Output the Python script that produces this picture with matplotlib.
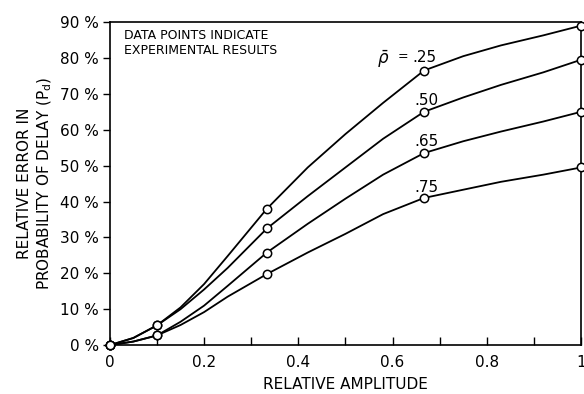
import matplotlib
matplotlib.use("Agg")
import matplotlib.pyplot as plt

# experimental points (relative amplitude, % relative error)
exp_x = [0, 0.1, 1 / 3, 2 / 3, 1.0]
exp_25 = [0, 5.5, 38.0, 76.5, 89.0]
exp_50 = [0, 5.5, 32.5, 65.0, 79.5]
exp_65 = [0, 2.7, 25.8, 53.5, 65.0]
exp_75 = [0, 2.7, 19.8, 41.0, 49.5]

# smooth curves
curve_x = [0, 0.05, 0.1, 0.15, 0.2, 0.25, 1 / 3, 0.42, 0.5, 0.58, 2 / 3, 0.75, 0.83, 0.92, 1.0]
curve_25 = [0, 2.0, 5.5, 10.5, 17.0, 24.8, 38.0, 49.5, 58.8, 67.5, 76.5, 80.5, 83.5, 86.3, 89.0]
curve_50 = [0, 2.0, 5.5, 10.0, 15.5, 21.5, 32.5, 41.5, 49.5, 57.5, 65.0, 69.0, 72.5, 76.0, 79.5]
curve_65 = [0, 1.0, 2.7, 6.5, 11.0, 16.5, 25.8, 33.8, 40.8, 47.5, 53.5, 56.8, 59.5, 62.3, 65.0]
curve_75 = [0, 1.0, 2.7, 5.6, 9.2, 13.5, 19.8, 25.8, 31.0, 36.5, 41.0, 43.3, 45.5, 47.5, 49.5]

rho_labels = [".25", ".50", ".65", ".75"]
label_x = [0.668, 0.672, 0.672, 0.672]
label_y = [80.0, 68.2, 56.8, 43.8]

x_ticks = [0, 0.1, 0.2, 0.3, 0.4, 0.5, 0.6, 0.7, 0.8, 0.9, 1.0]
x_ticklabels = ["0", "", "0.2", "", "0.4", "", "0.6", "", "0.8", "", "1"]
y_ticks = [0, 10, 20, 30, 40, 50, 60, 70, 80, 90]

plt.rcParams['font.family'] = ['DejaVu Sans']

fig = plt.figure(figsize=(5.84, 3.94), dpi=100)
ax = fig.add_axes([0.188, 0.124, 0.807, 0.820])

for cx, cy, ey in [(curve_x, curve_25, exp_25), (curve_x, curve_50, exp_50),
                   (curve_x, curve_65, exp_65), (curve_x, curve_75, exp_75)]:
    ax.plot(cx, cy, color='black', lw=1.3, solid_capstyle='round')
    ax.plot(exp_x, ey, ls='none', marker='o', ms=6, mfc='white', mec='black',
            mew=1.1, clip_on=False, zorder=3)

for lab, lx, ly in zip(rho_labels, label_x, label_y):
    ax.text(lx, ly, lab, ha='center', va='center', fontsize=11)
ax.text(0.580, 79.5, r"$\bar{\rho}$", ha='center', va='center', fontsize=12)
ax.text(0.622, 80.3, "=", ha='center', va='center', fontsize=9)

ax.text(0.03, 84.3, "DATA POINTS INDICATE\nEXPERIMENTAL RESULTS", ha='left', va='center',
        fontsize=9, linespacing=1.2)

ax.set_xlim(0, 1)
ax.set_ylim(0, 90)
ax.set_xticks(x_ticks)
ax.set_xticklabels(x_ticklabels, fontsize=11)
ax.set_yticks(y_ticks)
ax.set_yticklabels([f"{v} %" for v in y_ticks], fontsize=11)
ax.tick_params(axis='x', direction='in', length=6, width=1, pad=7)
ax.tick_params(axis='y', direction='out', length=5, width=1, pad=3)
for s in ax.spines.values():
    s.set_linewidth(1.2)

ax.set_xlabel("RELATIVE AMPLITUDE", fontsize=11, labelpad=5)
ax.set_ylabel("RELATIVE ERROR IN\nPROBABILITY OF DELAY (P$_\\mathregular{d}$)", fontsize=11,
              labelpad=4, linespacing=1.25)

fig.savefig("out.png", dpi=100)
